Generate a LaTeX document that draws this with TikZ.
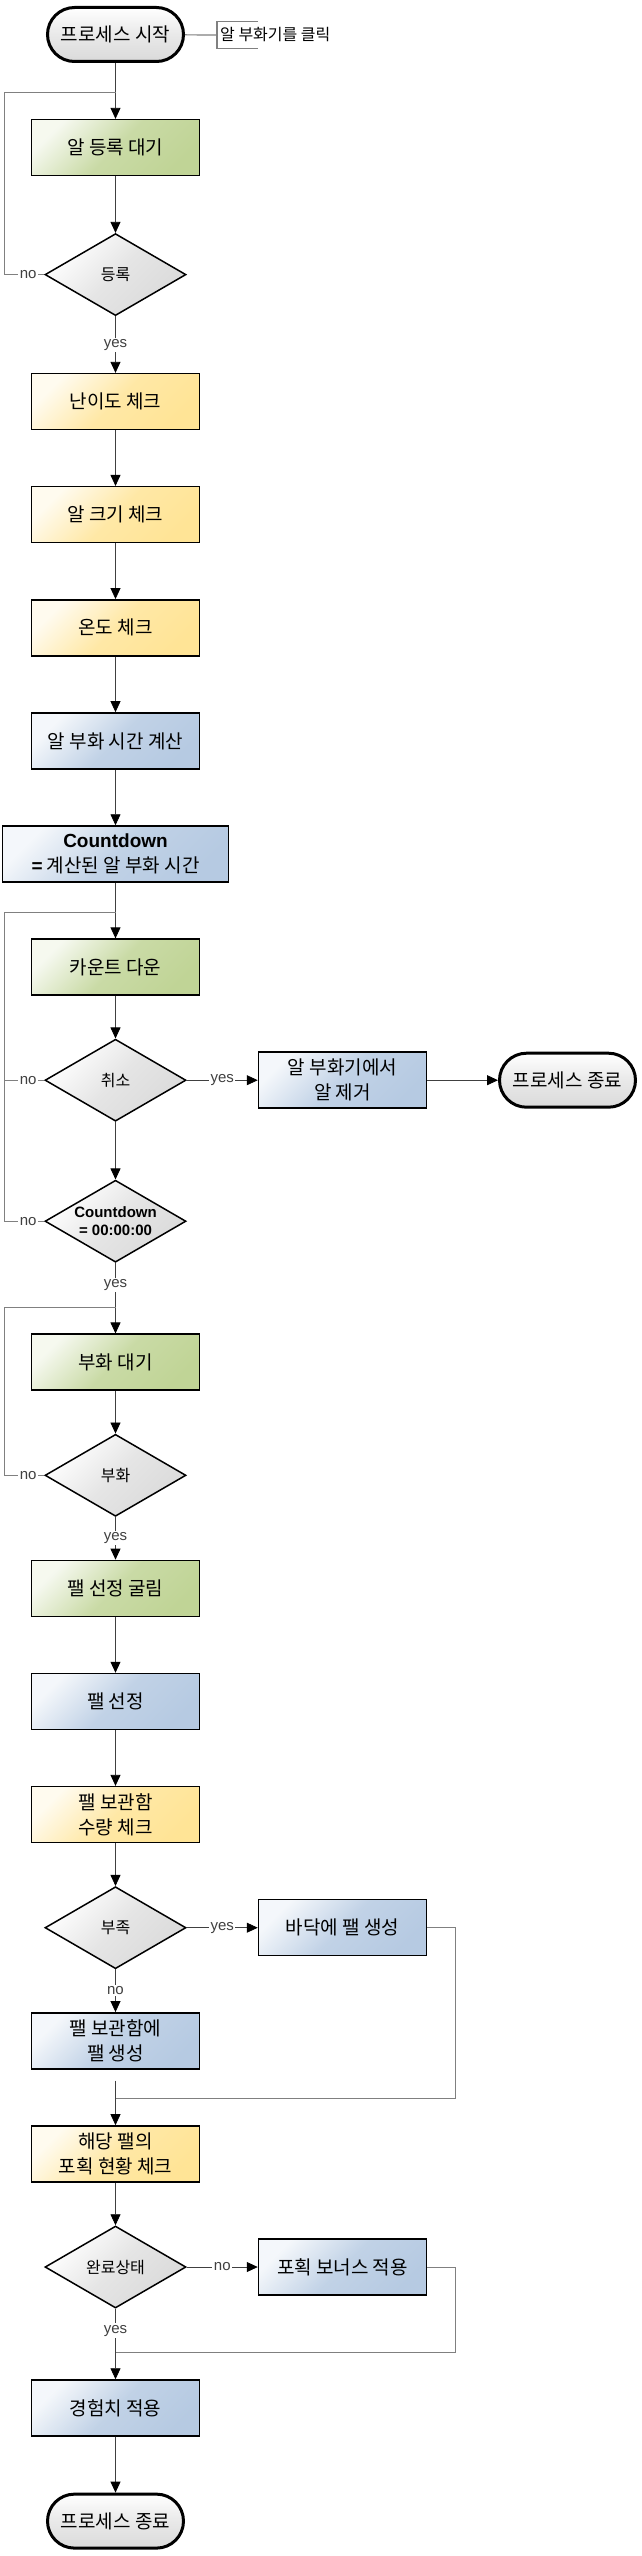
\documentclass[tikz,border=0pt]{standalone}
\usepackage{fontspec}
\setmainfont{Liberation Sans}
\newfontfamily\krfont{Noto Sans CJK KR}
\newfontfamily\latfont{Liberation Sans}
\usepackage{tikz}
\definecolor{flowGreen}{RGB}{192,212,150}
\definecolor{flowYellow}{RGB}{255,228,150}
\definecolor{flowBlue}{RGB}{182,202,226}
\definecolor{flowGray}{RGB}{218,218,218}
\definecolor{lineGray}{RGB}{64,64,64}
\definecolor{loopGray}{RGB}{128,128,128}
\usetikzlibrary{shapes.geometric, shapes.misc, arrows.meta, positioning}
\tikzstyle{block} = [draw, rectangle, line width=1.5pt, minimum width=168pt, minimum height=56pt, inner sep=2pt, align=center, font=\krfont\fontsize{19}{25}\selectfont]
\tikzstyle{greenBlock} = [block, top color=flowGreen!15!white, bottom color=flowGreen, middle color=flowGreen!85!white, shading angle=45]
\tikzstyle{yellowBlock} = [block, top color=flowYellow!15!white, bottom color=flowYellow, middle color=flowYellow!85!white, shading angle=45]
\tikzstyle{blueBlock} = [block, top color=flowBlue!15!white, bottom color=flowBlue, middle color=flowBlue!85!white, shading angle=45]
\tikzstyle{wideBlock} = [minimum width=226pt]
\tikzstyle{decision} = [draw, diamond, aspect=1.7, line width=1.5pt, minimum width=141pt, minimum height=82pt, inner sep=0pt, font=\krfont\fontsize{16}{19}\selectfont, top color=white, bottom color=flowGray, middle color=flowGray!70!white, shading angle=45]
\tikzstyle{decisionText} = [align=center, inner sep=0pt, font=\latfont\bfseries\fontsize{15}{18}\selectfont]
\tikzstyle{terminal} = [draw, rounded rectangle, line width=3pt, minimum width=140pt, minimum height=54pt, inner sep=2pt, font=\krfont\fontsize{19}{23}\selectfont, top color=white, bottom color=flowGray, middle color=flowGray!60!white]
\tikzstyle{note} = [inner sep=3pt, minimum height=26pt, font=\krfont\fontsize{16}{19}\selectfont]
\tikzstyle{lbl} = [fill=white, inner sep=1.5pt, text=black!75, font=\fontsize{15}{18}\selectfont]
\tikzstyle{flowLine} = [draw, lineGray, line width=0.8pt]
\tikzstyle{loopLine} = [draw, loopGray, line width=0.8pt]
\tikzstyle{noteLine} = [draw, loopGray, line width=1.2pt]
\begin{document}
\begin{tikzpicture}[x=1pt, y=1pt, node distance=113.1pt, >={Triangle[length=11pt, width=10pt, color=black]}]
        \useasboundingbox (0,0) rectangle (641,-2556);
        % We start by placing the blocks of the main column
        \node [terminal] (procStart) at (115.5,-34.5) {프로세스 시작};
        \node [note, anchor=west] (startNote) at (217,-35) {알 부화기를 클릭};
        \node [greenBlock, below of=procStart] (eggWait) {알 등록 대기};
        \node [decision, below of=eggWait, node distance=127pt] (regCheck) {등록};
        \node [yellowBlock, below of=regCheck, node distance=127pt] (levelCheck) {난이도 체크};
        \node [yellowBlock, below of=levelCheck] (sizeCheck) {알 크기 체크};
        \node [yellowBlock, below of=sizeCheck] (tempCheck) {온도 체크};
        \node [blueBlock, below of=tempCheck] (timeCalc) {알 부화 시간 계산};
        \node [blueBlock, wideBlock, below of=timeCalc] (cdSet) {{\latfont\bfseries Countdown}\\{\latfont\bfseries =} 계산된 알 부화 시간};
        \node [greenBlock, below of=cdSet] (countDown) {카운트 다운};
        \node [decision, below of=countDown] (cancelCheck) {취소};
        \node [blueBlock, right of=cancelCheck, node distance=227pt] (eggRemove) {알 부화기에서\\알 제거};
        \node [terminal, right of=eggRemove, node distance=225pt] (procEndA) {프로세스 종료};
        \node [decision, below of=cancelCheck, node distance=141pt, label={[decisionText]center:Countdown\\= 00:00:00}] (zeroCheck) {};
        \node [greenBlock, below of=zeroCheck, node distance=141pt] (hatchWait) {부화 대기};
        \node [decision, below of=hatchWait] (hatchCheck) {부화};
        \node [greenBlock, below of=hatchCheck] (palRoll) {팰 선정 굴림};
        \node [blueBlock, below of=palRoll] (palPick) {팰 선정};
        \node [yellowBlock, below of=palPick] (boxCheck) {팰 보관함\\수량 체크};
        \node [decision, below of=boxCheck] (fullCheck) {부족};
        \node [blueBlock, right of=fullCheck, node distance=227pt] (palFloor) {바닥에 팰 생성};
        \node [blueBlock, below of=fullCheck] (palBox) {팰 보관함에\\팰 생성};
        \node [yellowBlock, below of=palBox] (captureCheck) {해당 팰의\\포획 현황 체크};
        \node [decision, below of=captureCheck] (doneCheck) {완료상태};
        \node [blueBlock, right of=doneCheck, node distance=227pt] (bonusApply) {포획 보너스 적용};
        \node [blueBlock, below of=doneCheck, node distance=141pt] (expApply) {경험치 적용};
        \node [terminal, below of=expApply] (procEndB) {프로세스 종료};

        % Points where the loops join the main column
        \coordinate (joinA) at ([yshift=26pt]eggWait.north);
        \coordinate (joinB) at ([yshift=26pt]countDown.north);
        \coordinate (joinC) at ([yshift=26pt]hatchWait.north);
        \coordinate (joinD) at ([yshift=27pt]captureCheck.north);
        \coordinate (joinE) at ([yshift=27pt]expApply.north);

        % Once the nodes are placed, connecting them is easy.
        \draw [noteLine] (procStart) -- (startNote.west);
        \draw [noteLine] ([xshift=41pt]startNote.north west) -| (startNote.south west) -- ++(41pt,0);
        \draw [flowLine, ->] (procStart) -- (eggWait);
        \draw [flowLine, ->] (eggWait) -- (regCheck);
        \draw [loopLine] (regCheck.west) -- node[lbl, pos=0.4]{no} ++(-40pt,0) |- (joinA);
        \draw [flowLine, ->] (regCheck) -- node[lbl]{yes} (levelCheck);
        \draw [flowLine, ->] (levelCheck) -- (sizeCheck);
        \draw [flowLine, ->] (sizeCheck) -- (tempCheck);
        \draw [flowLine, ->] (tempCheck) -- (timeCalc);
        \draw [flowLine, ->] (timeCalc) -- (cdSet);
        \draw [flowLine, ->] (cdSet) -- (countDown);
        \draw [flowLine, ->] (countDown) -- (cancelCheck);
        \draw [flowLine, ->] (cancelCheck) -- node[lbl]{yes} (eggRemove);
        \draw [flowLine, ->] (eggRemove) -- (procEndA);
        \draw [loopLine] (cancelCheck.west) -- node[lbl, pos=0.4]{no} ++(-40pt,0) |- (joinB);
        \draw [flowLine, ->] (cancelCheck) -- (zeroCheck);
        \draw [loopLine] (zeroCheck.west) -- node[lbl, pos=0.4]{no} ++(-40pt,0) -- ([xshift=-40pt]cancelCheck.west);
        \draw [flowLine, ->] (zeroCheck) -- node[lbl]{yes} (joinC) -- (hatchWait);
        \draw [flowLine, ->] (hatchWait) -- (hatchCheck);
        \draw [loopLine] (hatchCheck.west) -- node[lbl, pos=0.4]{no} ++(-40pt,0) |- (joinC);
        \draw [flowLine, ->] (hatchCheck) -- node[lbl]{yes} (palRoll);
        \draw [flowLine, ->] (palRoll) -- (palPick);
        \draw [flowLine, ->] (palPick) -- (boxCheck);
        \draw [flowLine, ->] (boxCheck) -- (fullCheck);
        \draw [flowLine, ->] (fullCheck) -- node[lbl]{yes} (palFloor);
        \draw [flowLine, ->] (fullCheck) -- node[lbl]{no} (palBox);
        \draw [loopLine] (palFloor.east) -- ++(28pt,0) |- (joinD);
        \draw [flowLine, ->, shorten <=11pt] (palBox) -- (joinD) -- (captureCheck);
        \draw [flowLine, ->] (captureCheck) -- (doneCheck);
        \draw [flowLine, ->] (doneCheck) -- node[lbl]{no} (bonusApply);
        \draw [loopLine] (bonusApply.east) -- ++(28pt,0) |- (joinE);
        \draw [flowLine, ->] (doneCheck) -- node[lbl]{yes} (joinE) -- (expApply);
        \draw [flowLine, ->] (expApply) -- (procEndB);
    \end{tikzpicture}
\end{document}
